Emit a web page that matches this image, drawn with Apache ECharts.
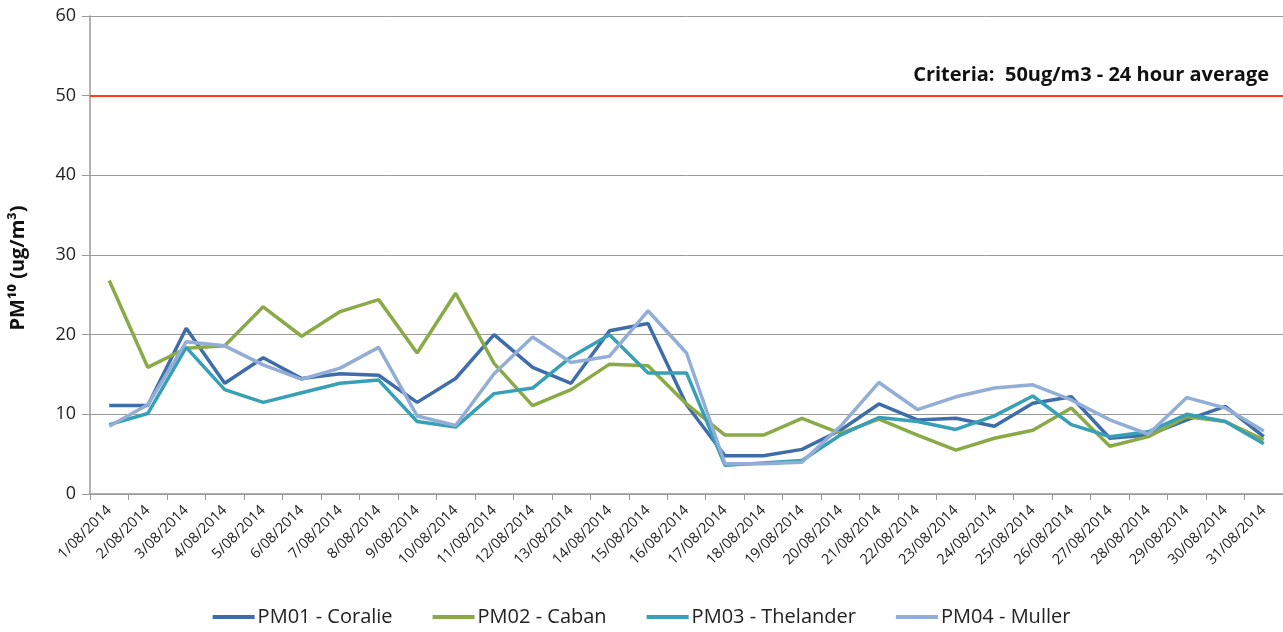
<!DOCTYPE html>
<html><head><meta charset="utf-8">
<script src="https://cdn.jsdelivr.net/npm/echarts@6/dist/echarts.min.js"></script>
<style>html,body{margin:0;padding:0;background:#fff}#c{width:1283px;height:632px}</style>
</head><body><div id="c"></div>
<script>
const categories = ["1/08/2014","2/08/2014","3/08/2014","4/08/2014","5/08/2014","6/08/2014","7/08/2014","8/08/2014","9/08/2014","10/08/2014","11/08/2014","12/08/2014","13/08/2014","14/08/2014","15/08/2014","16/08/2014","17/08/2014","18/08/2014","19/08/2014","20/08/2014","21/08/2014","22/08/2014","23/08/2014","24/08/2014","25/08/2014","26/08/2014","27/08/2014","28/08/2014","29/08/2014","30/08/2014","31/08/2014"];
const pm01 = [11.1,11.1,20.8,13.9,17.1,14.5,15.1,14.9,11.5,14.5,20.0,15.9,13.9,20.5,21.4,11.2,4.8,4.8,5.6,8.0,11.3,9.3,9.5,8.5,11.4,12.2,7.0,7.4,9.3,11.0,7.2];
const pm02 = [26.8,15.9,18.3,18.6,23.5,19.8,22.9,24.4,17.7,25.2,16.4,11.1,13.1,16.3,16.1,11.3,7.4,7.4,9.5,7.6,9.4,7.4,5.5,7.0,8.0,10.8,6.0,7.2,9.7,9.1,6.8];
const pm03 = [8.7,10.1,18.4,13.1,11.5,12.7,13.9,14.3,9.1,8.4,12.6,13.3,17.2,20.0,15.2,15.2,3.6,3.9,4.2,7.4,9.6,9.1,8.1,9.8,12.3,8.7,7.2,7.8,10.0,9.1,6.3];
const pm04 = [8.5,11.2,19.1,18.6,16.2,14.4,15.8,18.4,9.8,8.6,15.1,19.7,16.5,17.3,23.0,17.7,3.8,3.8,4.0,8.5,14.0,10.6,12.2,13.3,13.7,11.8,9.3,7.5,12.1,10.8,7.9];
const seriesNames = ["PM01 - Coralie","PM02 - Caban","PM03 - Thelander","PM04 - Muller"];
const criteriaValue = 50;
const criteriaLabel = "Criteria:  50ug/m3 - 24 hour average";
const yTicks = {min:0,max:60,interval:10};

const colors = ["#3F6DAA","#8AAA47","#37A0B6","#93AED6"];
const values = [pm01,pm02,pm03,pm04];
const font = "'Open Sans', 'Liberation Sans', sans-serif";

const series = values.map((v,i)=>({
  name: seriesNames[i], type:'line', data:v, symbol:'none',
  lineStyle:{width:3.5,color:colors[i]}, itemStyle:{color:colors[i]}, z:2+i,
  animation:false
}));
series[0].markLine = {
  silent:true, symbol:'none', animation:false,
  lineStyle:{color:'#FF3B1A',width:2,type:'solid'},
  label:{show:true,position:'insideEndTop',formatter:criteriaLabel,
    fontFamily:font,fontWeight:'bold',fontSize:20,color:'#111',distance:[14,10]},
  data:[{yAxis:criteriaValue}]
};

const chart = echarts.init(document.getElementById('c'),null,{renderer:'canvas'});
chart.setOption({
  animation:false,
  grid:{left:90,right:0,top:16,bottom:138},
  legend:{bottom:0,left:'center',itemWidth:42,itemHeight:4,itemGap:40,
    icon:'rect',
    textStyle:{fontFamily:font,fontSize:20,color:'#222',padding:[0,0,0,-2]},
    data:seriesNames},
  xAxis:{type:'category',data:categories,boundaryGap:true,
    axisLine:{lineStyle:{color:'#999',width:1.5}},
    axisTick:{show:true,alignWithLabel:false,length:6,lineStyle:{color:'#999'}},
    axisLabel:{rotate:45,fontFamily:font,fontSize:14.5,color:'#222',interval:0,margin:14}},
  yAxis:{type:'value',min:yTicks.min,max:yTicks.max,interval:yTicks.interval,
    name:'PM¹⁰ (ug/m³)',nameLocation:'middle',nameGap:62,nameRotate:90,
    nameTextStyle:{fontFamily:font,fontSize:20,fontWeight:'bold',color:'#111',padding:[0,0,0,-26]},
    axisLine:{show:true,lineStyle:{color:'#999',width:1.5}},
    axisTick:{show:true,length:8,lineStyle:{color:'#999'}},
    splitLine:{lineStyle:{color:'#999',width:1}},
    axisLabel:{fontFamily:font,fontSize:18,color:'#222',margin:14}},
  series:series
});
</script></body></html>
